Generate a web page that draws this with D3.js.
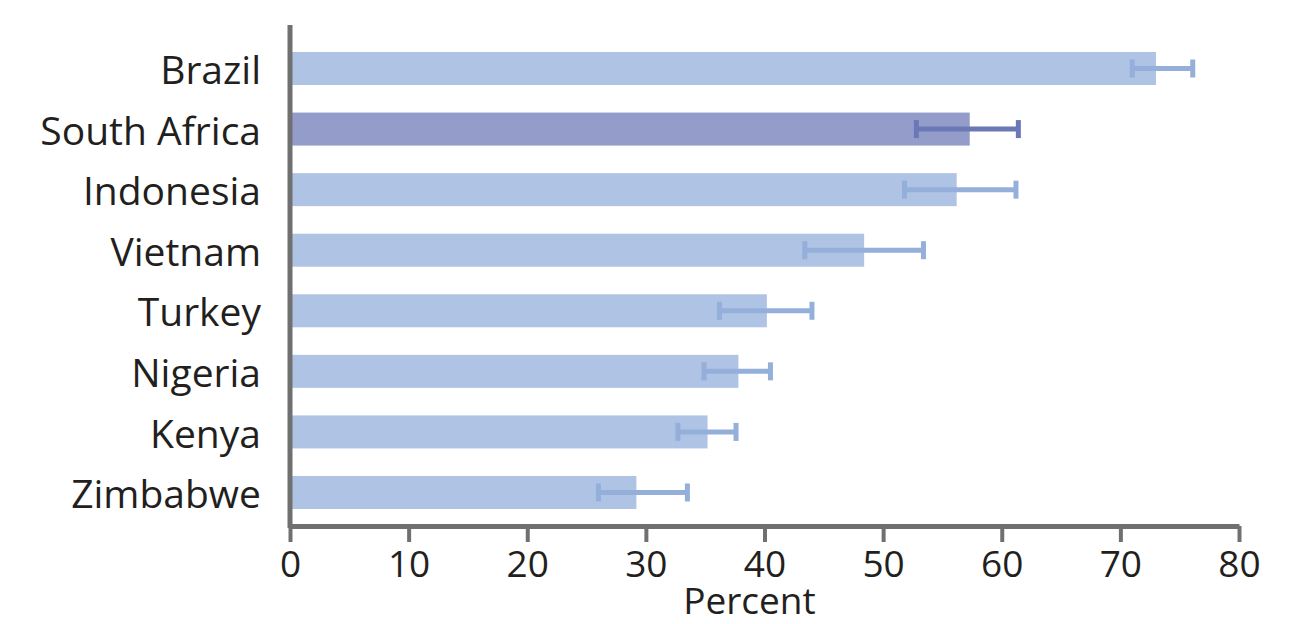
<!DOCTYPE html>
<html>
<head>
<meta charset="utf-8">
<script src="https://cdn.jsdelivr.net/npm/d3@7"></script>
<style>
  body { margin: 0; background: #fff; }
  text { font-family: "Open Sans", "Noto Sans", sans-serif; fill: #231f20; }
</style>
</head>
<body>
<div id="chart"></div>
<script>
'use strict';

// Data
const countries = ['Brazil', 'South Africa', 'Indonesia', 'Vietnam', 'Turkey', 'Nigeria', 'Kenya', 'Zimbabwe'];
const values = [73.0, 57.3, 56.2, 48.4, 40.2, 37.8, 35.2, 29.2];
const lower = [71.0, 52.8, 51.8, 43.4, 36.2, 34.9, 32.7, 26.0];
const upper = [76.1, 61.4, 61.2, 53.4, 44.0, 40.5, 37.6, 33.5];
const highlighted = ['South Africa'];
const xTicks = [0, 10, 20, 30, 40, 50, 60, 70, 80];
const xLabel = 'Percent';

const width = 1306;
const height = 624;

const barColor = '#afc3e4';
const barHiColor = '#949cca';
const errColor = '#93afda';
const errHiColor = '#6b78b6';
const axisColor = '#707070';

function main() {
    let svg = d3.select('#chart')
        .append('svg')
        .attr('width', width)
        .attr('height', height);

    let x = d3.scaleLinear()
        .domain([0, 80])
        .range([290, 1239]);

    let y = d3.scaleBand()
        .domain(countries)
        .range([52, 509])
        .paddingInner(0.455)
        .paddingOuter(0);

    let rows = countries.map((c, i) => ({ name: c, value: values[i], lo: lower[i], hi: upper[i], hot: highlighted.includes(c) }));

    // Bars
    svg.append('g')
        .selectAll('rect')
        .data(rows)
        .enter()
        .append('rect')
        .attr('x', x(0))
        .attr('y', d => y(d.name))
        .attr('width', d => x(d.value) - x(0))
        .attr('height', y.bandwidth())
        .attr('fill', d => d.hot ? barHiColor : barColor);

    // Error bars: whisker plus two caps
    let err = svg.append('g')
        .selectAll('g')
        .data(rows)
        .enter()
        .append('g')
        .attr('stroke', d => d.hot ? errHiColor : errColor)
        .attr('stroke-width', 5);

    err.append('line')
        .attr('x1', d => x(d.lo))
        .attr('x2', d => x(d.hi))
        .attr('y1', d => y(d.name) + y.bandwidth() / 2)
        .attr('y2', d => y(d.name) + y.bandwidth() / 2);

    ['lo', 'hi'].forEach(k => {
        err.append('line')
            .attr('x1', d => x(d[k]))
            .attr('x2', d => x(d[k]))
            .attr('y1', d => y(d.name) + y.bandwidth() / 2 - 9)
            .attr('y2', d => y(d.name) + y.bandwidth() / 2 + 9);
    });

    // Category labels
    svg.append('g')
        .selectAll('text')
        .data(rows)
        .enter()
        .append('text')
        .attr('x', 261)
        .attr('y', d => y(d.name) + y.bandwidth() / 2 + 2)
        .attr('dy', '0.35em')
        .attr('text-anchor', 'end')
        .attr('font-size', 39)
        .text(d => d.name);

    // X axis
    let xAxis = svg.append('g')
        .attr('transform', 'translate(0, 526)')
        .call(d3.axisBottom(x).tickValues(xTicks).tickSize(16).tickPadding(9).tickSizeOuter(0));
    xAxis.select('.domain').attr('stroke', axisColor).attr('stroke-width', 5);
    xAxis.selectAll('.tick line').attr('stroke', axisColor).attr('stroke-width', 4);
    xAxis.selectAll('.tick text')
        .attr('font-size', 37)
        .attr('font-family', '"Open Sans", "Noto Sans", sans-serif')
        .attr('fill', '#231f20');

    // Left axis line
    svg.append('line')
        .attr('x1', x(0))
        .attr('x2', x(0))
        .attr('y1', 25)
        .attr('y2', 528)
        .attr('stroke', axisColor)
        .attr('stroke-width', 5);

    svg.append('text')
        .attr('x', (x(0) + x(80)) / 2 - 15)
        .attr('y', 614)
        .attr('text-anchor', 'middle')
        .attr('font-size', 37)
        .text(xLabel);
}
main();
</script>
</body>
</html>
